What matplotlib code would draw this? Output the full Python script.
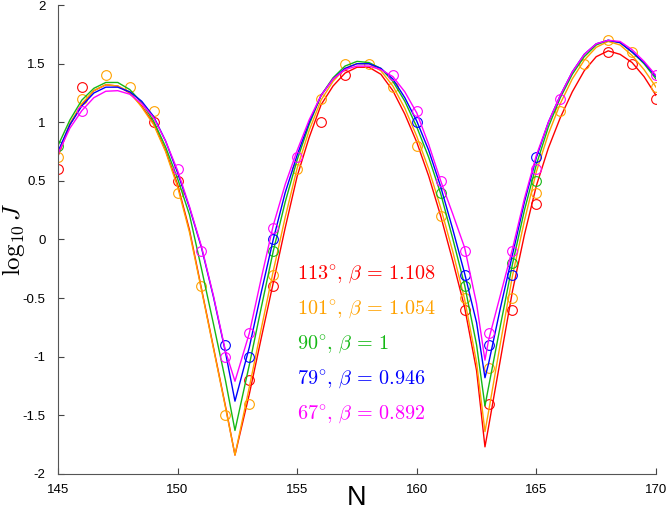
import numpy as np
import matplotlib
matplotlib.use("Agg")
import matplotlib.pyplot as plt
from matplotlib.ticker import FuncFormatter

plt.rcParams['mathtext.fontset'] = 'cm'
plt.rcParams['font.family'] = ['Liberation Sans', 'DejaVu Sans']

# fitted curves
N_fit = [145, 145.5, 146, 146.5, 147, 147.5, 148, 148.5, 149, 149.5, 150, 150.5,
         151, 151.5, 152, 152.4, 153, 153.5, 154, 154.5, 155, 155.5, 156, 156.5,
         157, 157.5, 158, 158.5, 159, 159.5, 160, 160.5, 161, 161.5, 162, 162.5,
         162.85, 163, 163.5, 164, 164.5, 165, 165.5, 166, 166.5, 167, 167.5, 168,
         168.5, 169, 169.5, 170]

fit_red = [0.71, 0.98, 1.15, 1.27, 1.32, 1.31, 1.25, 1.14, 0.99, 0.76, 0.47, 0.08,
           -0.42, -0.92, -1.42, -1.84, -1.32, -0.84, -0.37, 0.10, 0.54, 0.87, 1.15, 1.31,
           1.42, 1.47, 1.47, 1.41, 1.27, 1.07, 0.83, 0.54, 0.20, -0.18, -0.58, -1.12,
           -1.77, -1.60, -1.02, -0.44, 0.04, 0.46, 0.78, 1.04, 1.26, 1.44, 1.56, 1.61,
           1.58, 1.51, 1.39, 1.23]
fit_orange = [0.73, 0.99, 1.16, 1.27, 1.32, 1.31, 1.26, 1.13, 0.98, 0.75, 0.45, 0.06,
              -0.43, -0.93, -1.43, -1.84, -1.26, -0.76, -0.27, 0.19, 0.61, 0.93, 1.19, 1.35,
              1.46, 1.50, 1.50, 1.44, 1.31, 1.12, 0.88, 0.60, 0.27, -0.10, -0.51, -1.05,
              -1.64, -1.47, -0.88, -0.31, 0.16, 0.58, 0.90, 1.16, 1.37, 1.53, 1.64, 1.69,
              1.66, 1.57, 1.45, 1.30]
fit_green = [0.80, 1.02, 1.19, 1.29, 1.34, 1.34, 1.28, 1.17, 1.01, 0.79, 0.52, 0.21,
             -0.25, -0.72, -1.20, -1.63, -1.07, -0.58, -0.10, 0.32, 0.68, 0.98, 1.23, 1.38,
             1.48, 1.52, 1.51, 1.46, 1.35, 1.18, 0.96, 0.70, 0.39, 0.01, -0.39, -0.90,
             -1.42, -1.26, -0.73, -0.21, 0.25, 0.64, 0.96, 1.21, 1.41, 1.56, 1.66, 1.70,
             1.68, 1.60, 1.50, 1.37]
fit_blue = [0.75, 0.98, 1.14, 1.25, 1.30, 1.30, 1.26, 1.18, 1.05, 0.84, 0.57, 0.27,
            -0.07, -0.49, -0.96, -1.38, -0.92, -0.45, 0.00, 0.40, 0.72, 1.00, 1.23, 1.37,
            1.46, 1.50, 1.50, 1.46, 1.37, 1.21, 1.01, 0.76, 0.45, 0.09, -0.29, -0.71,
            -1.18, -1.06, -0.58, -0.13, 0.32, 0.70, 1.00, 1.23, 1.43, 1.58, 1.67, 1.70,
            1.68, 1.60, 1.51, 1.39]
fit_magenta = [0.73, 0.95, 1.10, 1.21, 1.265, 1.27, 1.24, 1.16, 1.04, 0.84, 0.59, 0.28,
               -0.06, -0.48, -0.95, -1.21, -0.80, -0.33, 0.12, 0.47, 0.76, 1.02, 1.23, 1.37,
               1.45, 1.48, 1.48, 1.45, 1.39, 1.26, 1.08, 0.81, 0.50, 0.22, -0.07, -0.55,
               -1.03, -0.86, -0.47, -0.08, 0.35, 0.72, 1.00, 1.23, 1.43, 1.58, 1.67, 1.70,
               1.69, 1.62, 1.52, 1.40]

# measured points (only the visible circles)
nan = np.nan
N_obs = list(range(145, 171))
obs_red = [0.6, 1.3, nan, nan, 1.0, 0.5, nan, nan, -1.2, -0.4, nan, 1.0, 1.4,
           nan, nan, nan, nan, -0.6, -1.4, -0.6, 0.3, nan, nan, 1.6, 1.5, 1.2]
obs_orange = [0.7, 1.2, 1.4, 1.3, 1.1, 0.4, -0.4, -1.5, -1.4, -0.3, 0.6, 1.2, 1.5,
              1.5, 1.3, 0.8, 0.2, -0.5, -1.1, -0.5, 0.4, 1.1, 1.5, 1.7, 1.6, 1.3]
obs_green = [0.8, nan, nan, nan, nan, nan, nan, nan, nan, -0.1, nan, nan, nan,
             nan, nan, nan, 0.4, -0.4, nan, -0.2, 0.5, nan, nan, nan, nan, nan]
obs_blue = [nan, nan, nan, nan, nan, nan, nan, -0.9, -1.0, 0.0, nan, nan, nan,
            nan, nan, 1.0, nan, -0.3, -0.9, -0.3, 0.7, nan, nan, nan, nan, nan]
obs_magenta = [nan, 1.1, nan, nan, nan, 0.6, -0.1, -1.0, -0.8, 0.1, 0.7, nan, nan,
               nan, 1.4, 1.1, 0.5, -0.1, -0.8, -0.1, 0.6, 1.2, nan, nan, nan, 1.4]

labels = [r'$113^{\circ},\, \beta \,=\, 1.108$', r'$101^{\circ},\, \beta \,=\, 1.054$',
          r'$90^{\circ},\, \beta \,=\, 1$', r'$79^{\circ},\, \beta \,=\, 0.946$',
          r'$67^{\circ},\, \beta \,=\, 0.892$']
colors = ['#ff0000', '#ffa200', '#14b814', '#0000ff', '#ff00ff']

fits = [fit_red, fit_orange, fit_green, fit_blue, fit_magenta]
obs = [obs_red, obs_orange, obs_green, obs_blue, obs_magenta]

fig = plt.figure(figsize=(6.66, 5.15), dpi=100)
ax = fig.add_axes([0.087, 0.080, 0.898, 0.910])

for f, o, c in zip(fits, obs, colors):
    ax.plot(N_fit, f, '-', color=c, lw=1.0)
    ax.plot(N_obs, o, 'o', mfc='none', mec=c, ms=7, mew=0.8)

for i, (lab, c) in enumerate(zip(labels, colors)):
    ax.text(155.0, -0.3 - 0.3 * i, lab, color=c, fontsize=14.5, va='center', ha='left')

ax.set_xlim(145, 170)
ax.set_ylim(-2, 2)
ax.set_xticks(range(145, 171, 5))
ax.set_yticks(np.arange(-2, 2.01, 0.5))
ax.yaxis.set_major_formatter(FuncFormatter(lambda v, p: '%g' % v))
ax.tick_params(direction='in', length=4, width=0.8, color='#444444', labelsize=9.5)
ax.tick_params(axis='x', pad=7)
ax.tick_params(axis='y', pad=9)
for s in ['top', 'right']:
    ax.spines[s].set_visible(False)
for s in ['left', 'bottom']:
    ax.spines[s].set_color('#555555')
    ax.spines[s].set_linewidth(0.8)

fig.text(0.536, 0.033, 'N', ha='center', va='center', fontsize=19.5)
fig.text(0.021, 0.535, r'$\log_{10}J$', ha='center', va='center', rotation=90, fontsize=18)

fig.savefig('out.png', dpi=100)
